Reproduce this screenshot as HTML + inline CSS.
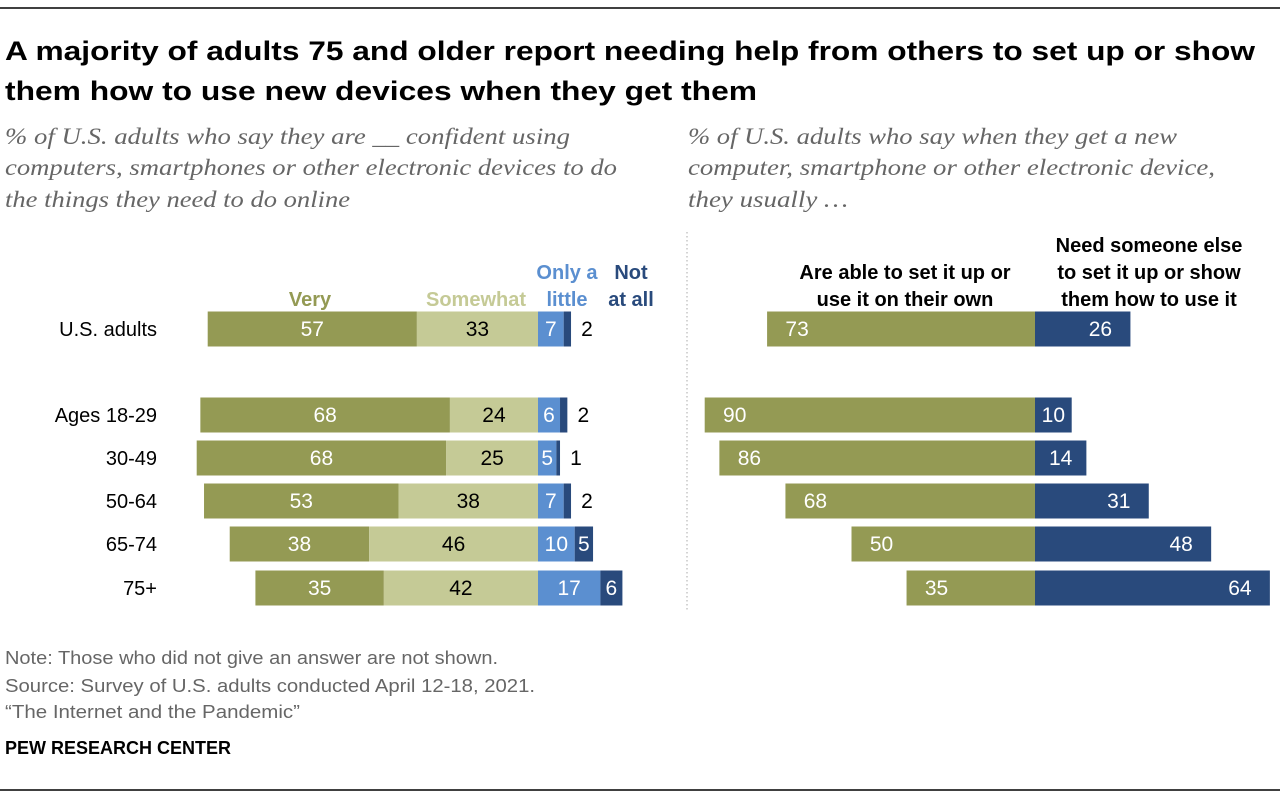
<!DOCTYPE html>
<html><head><meta charset="utf-8"><style>
body{margin:0;background:#fff;width:1280px;height:800px;overflow:hidden;font-family:"Liberation Sans",sans-serif;}
</style></head><body>
<svg width="1280" height="800" xmlns="http://www.w3.org/2000/svg">
<line x1="0" y1="8" x2="1280" y2="8" stroke="#000" stroke-width="1.5"/>
<text font-size="27" font-weight="bold" fill="#000"><tspan x="5" y="60" textLength="1250" lengthAdjust="spacingAndGlyphs">A majority of adults 75 and older report needing help from others to set up or show</tspan><tspan x="5" y="100" textLength="752" lengthAdjust="spacingAndGlyphs">them how to use new devices when they get them</tspan></text>
<text font-family="Liberation Serif" font-style="italic" font-size="23" fill="#666"><tspan x="5" y="144" textLength="565" lengthAdjust="spacingAndGlyphs">% of U.S. adults who say they are __ confident using</tspan><tspan x="5" y="175" textLength="612" lengthAdjust="spacingAndGlyphs">computers, smartphones or other electronic devices to do</tspan><tspan x="5" y="207" textLength="345" lengthAdjust="spacingAndGlyphs">the things they need to do online</tspan></text>
<text font-family="Liberation Serif" font-style="italic" font-size="23" fill="#666"><tspan x="688" y="144" textLength="489" lengthAdjust="spacingAndGlyphs">% of U.S. adults who say when they get a new</tspan><tspan x="688" y="175" textLength="527" lengthAdjust="spacingAndGlyphs">computer, smartphone or other electronic device,</tspan><tspan x="688" y="207" textLength="160" lengthAdjust="spacingAndGlyphs">they usually …</tspan></text>
<line x1="687" y1="232" x2="687" y2="612" stroke="#aaa" stroke-dasharray="1.5,2.5"/>
<g font-weight="bold" font-size="20">
<text x="310" y="306" text-anchor="middle" fill="#949a54">Very</text>
<text x="476" y="306" text-anchor="middle" fill="#c5ca96">Somewhat</text>
<text x="567" y="279" text-anchor="middle" fill="#5b8fd0"><tspan x="567">Only a</tspan><tspan x="567" dy="27">little</tspan></text>
<text x="631" y="279" text-anchor="middle" fill="#294a7c"><tspan x="631">Not</tspan><tspan x="631" dy="27">at all</tspan></text>
<text x="905" y="279" text-anchor="middle" fill="#000"><tspan x="905">Are able to set it up or</tspan><tspan x="905" dy="27">use it on their own</tspan></text>
<text x="1149" y="252" text-anchor="middle" fill="#000"><tspan x="1149">Need someone else</tspan><tspan x="1149" dy="27">to set it up or show</tspan><tspan x="1149" dy="27">them how to use it</tspan></text>
</g>
<g id="bars"></g>
<g font-size="18" fill="#666">
<text x="5" y="664" textLength="493" lengthAdjust="spacingAndGlyphs">Note: Those who did not give an answer are not shown.</text>
<text x="5" y="692" textLength="530" lengthAdjust="spacingAndGlyphs">Source: Survey of U.S. adults conducted April 12-18, 2021.</text>
<text x="5" y="718" textLength="295" lengthAdjust="spacingAndGlyphs">“The Internet and the Pandemic”</text>
</g>
<text x="5" y="754" font-size="18" font-weight="bold" fill="#000" textLength="226" lengthAdjust="spacingAndGlyphs">PEW RESEARCH CENTER</text>
<line x1="0" y1="790" x2="1280" y2="790" stroke="#000" stroke-width="1.5"/>
</svg>
<script>
const categories=["U.S. adults","Ages 18-29","30-49","50-64","65-74","75+"];
const very=[57,68,68,53,38,35];
const somewhat=[33,24,25,38,46,42];
const little=[7,6,5,7,10,17];
const notAtAll=[2,2,1,2,5,6];
const onOwn=[73,90,86,68,50,35];
const needHelp=[26,10,14,31,48,64];
const S=3.67, LC=538, RC=1035, H=35;
const rowY=[329,415,458,501,544,588];
const x=v=>v*S;
const g=document.getElementById('bars');
const NS="http://www.w3.org/2000/svg";
function rect(x0,w,y,fill,name){const r=document.createElementNS(NS,'rect');r.setAttribute('x',x0);r.setAttribute('y',y-H/2);r.setAttribute('width',w);r.setAttribute('height',H);r.setAttribute('fill',fill);


g.appendChild(r);}
function txt(xp,y,s,fill,anchor,name,size){const t=document.createElementNS(NS,'text');t.setAttribute('x',xp);t.setAttribute('y',y+7);t.setAttribute('fill',fill);t.setAttribute('font-size',size||21);t.setAttribute('text-anchor',anchor||'middle');t.textContent=s;


g.appendChild(t);}
categories.forEach((c,i)=>{const y=rowY[i];
txt(157,y,c,'#000','end','row-label',20);
const s0=LC-x(somewhat[i]),v0=s0-x(very[i]);
rect(v0,x(very[i]),y,'#949a54','bar-very');txt(v0+x(very[i])/2,y,very[i],'#fff','middle','value-very');
rect(s0,x(somewhat[i]),y,'#c5ca96','bar-somewhat');txt(s0+x(somewhat[i])/2,y,somewhat[i],'#000','middle','value-somewhat');
rect(LC,x(little[i]),y,'#5b8fd0','bar-little');txt(LC+x(little[i])/2,y,little[i],'#fff','middle','value-little');
const n0=LC+x(little[i]);rect(n0,x(notAtAll[i]),y,'#294a7c','bar-not-at-all');
if(notAtAll[i]>=5)txt(n0+x(notAtAll[i])/2,y,notAtAll[i],'#fff','middle','value-not-at-all');else txt(n0+x(notAtAll[i])+16,y,notAtAll[i],'#000','middle','value-not-at-all');
const o0=RC-x(onOwn[i]);rect(o0,x(onOwn[i]),y,'#949a54','bar-on-own');txt(o0+30,y,onOwn[i],'#fff','middle','value-on-own');
rect(RC,x(needHelp[i]),y,'#294a7c','bar-need-help');txt(Math.max(RC+x(needHelp[i])/2,RC+x(needHelp[i])-30),y,needHelp[i],'#fff','middle','value-need-help');
});
</script>
</body></html>
